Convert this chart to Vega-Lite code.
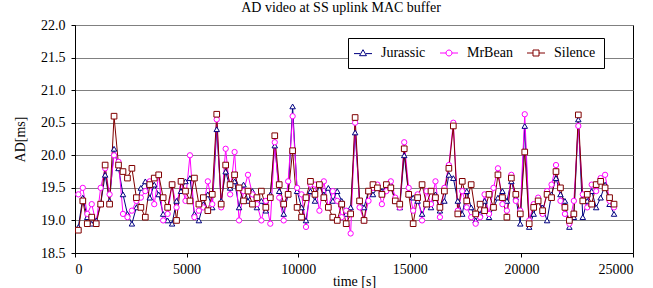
{
"$schema": "https://vega.github.io/schema/vega-lite/v6.json",
"width": 558, "height": 228,
"autosize": {"type": "none"},
"padding": {"left": 75, "top": 25, "right": 20, "bottom": 35},
"title": {"text": "AD video at SS uplink MAC buffer", "font": "Liberation Serif", "fontSize": 14, "fontWeight": "normal", "color": "black", "offset": 3, "anchor": "middle", "dx": -13},
"config": {
  "view": {"stroke": "#000", "strokeWidth": 1},
  "style": {"guide-label": {"font": "Liberation Serif", "fontSize": 14, "fill": "black"}},
  "axis": {"labelFont": "Liberation Serif", "labelFontSize": 14, "labelColor": "black", "titleFont": "Liberation Serif", "titleFontSize": 14, "titleFontWeight": "normal", "titleColor": "black", "domainColor": "black", "tickColor": "black", "tickSize": 4, "gridColor": "#808080", "gridWidth": 1},
  "legend": {"labelFont": "Liberation Serif", "labelFontSize": 14, "labelColor": "black"}
},
"data": {"values": [
{"t":150,"Jurassic":18.90,"MrBean":19.40,"Silence":18.85},
{"t":350,"Jurassic":19.35,"MrBean":19.50,"Silence":19.30},
{"t":550,"Jurassic":19.05,"MrBean":19.10,"Silence":18.95},
{"t":750,"Jurassic":18.95,"MrBean":19.25,"Silence":19.05},
{"t":950,"Jurassic":19.00,"MrBean":18.95,"Silence":18.95},
{"t":1150,"Jurassic":19.25,"MrBean":19.50,"Silence":19.25},
{"t":1350,"Jurassic":19.70,"MrBean":19.80,"Silence":19.85},
{"t":1550,"Jurassic":19.30,"MrBean":19.40,"Silence":19.25},
{"t":1750,"Jurassic":20.10,"MrBean":20.00,"Silence":20.60},
{"t":1950,"Jurassic":19.80,"MrBean":19.90,"Silence":19.85},
{"t":2150,"Jurassic":19.40,"MrBean":19.10,"Silence":19.75},
{"t":2350,"Jurassic":19.10,"MrBean":19.05,"Silence":19.65},
{"t":2550,"Jurassic":18.95,"MrBean":19.15,"Silence":19.80},
{"t":2750,"Jurassic":19.20,"MrBean":19.30,"Silence":19.35},
{"t":2950,"Jurassic":19.50,"MrBean":19.35,"Silence":19.20},
{"t":3150,"Jurassic":19.60,"MrBean":19.45,"Silence":19.05},
{"t":3350,"Jurassic":19.35,"MrBean":19.60,"Silence":19.55},
{"t":3550,"Jurassic":19.55,"MrBean":19.25,"Silence":19.65},
{"t":3750,"Jurassic":19.40,"MrBean":19.70,"Silence":19.70},
{"t":3950,"Jurassic":19.10,"MrBean":19.00,"Silence":19.35},
{"t":4150,"Jurassic":19.00,"MrBean":19.10,"Silence":19.20},
{"t":4350,"Jurassic":18.95,"MrBean":19.55,"Silence":19.55},
{"t":4550,"Jurassic":19.30,"MrBean":19.20,"Silence":19.00},
{"t":4750,"Jurassic":19.45,"MrBean":19.60,"Silence":19.60},
{"t":4950,"Jurassic":19.60,"MrBean":19.30,"Silence":19.45},
{"t":5150,"Jurassic":19.65,"MrBean":20.00,"Silence":19.30},
{"t":5350,"Jurassic":19.10,"MrBean":19.05,"Silence":19.65},
{"t":5550,"Jurassic":19.00,"MrBean":19.15,"Silence":19.25},
{"t":5750,"Jurassic":19.25,"MrBean":19.20,"Silence":19.35},
{"t":5950,"Jurassic":19.40,"MrBean":19.60,"Silence":19.15},
{"t":6150,"Jurassic":19.20,"MrBean":19.25,"Silence":19.40},
{"t":6350,"Jurassic":20.40,"MrBean":20.55,"Silence":20.63},
{"t":6550,"Jurassic":19.30,"MrBean":19.20,"Silence":19.25},
{"t":6750,"Jurassic":19.75,"MrBean":20.10,"Silence":19.85},
{"t":6950,"Jurassic":19.50,"MrBean":19.40,"Silence":19.55},
{"t":7150,"Jurassic":19.60,"MrBean":20.05,"Silence":19.70},
{"t":7350,"Jurassic":19.20,"MrBean":19.00,"Silence":19.50},
{"t":7550,"Jurassic":19.55,"MrBean":19.45,"Silence":19.30},
{"t":7750,"Jurassic":19.30,"MrBean":19.70,"Silence":19.45},
{"t":7950,"Jurassic":19.45,"MrBean":19.40,"Silence":19.25},
{"t":8150,"Jurassic":19.20,"MrBean":19.25,"Silence":19.35},
{"t":8350,"Jurassic":19.30,"MrBean":19.00,"Silence":19.45},
{"t":8550,"Jurassic":19.15,"MrBean":19.30,"Silence":19.20},
{"t":8750,"Jurassic":19.40,"MrBean":18.95,"Silence":19.35},
{"t":8950,"Jurassic":20.15,"MrBean":20.20,"Silence":20.30},
{"t":9150,"Jurassic":19.45,"MrBean":19.35,"Silence":19.55},
{"t":9350,"Jurassic":19.10,"MrBean":19.00,"Silence":19.25},
{"t":9550,"Jurassic":19.40,"MrBean":19.60,"Silence":19.40},
{"t":9750,"Jurassic":20.75,"MrBean":20.60,"Silence":20.07},
{"t":9950,"Jurassic":19.45,"MrBean":19.50,"Silence":19.20},
{"t":10150,"Jurassic":19.20,"MrBean":19.40,"Silence":19.05},
{"t":10350,"Jurassic":19.00,"MrBean":18.90,"Silence":19.35},
{"t":10550,"Jurassic":19.45,"MrBean":19.55,"Silence":19.60},
{"t":10750,"Jurassic":19.30,"MrBean":19.55,"Silence":19.40},
{"t":10950,"Jurassic":19.55,"MrBean":19.15,"Silence":19.55},
{"t":11150,"Jurassic":19.40,"MrBean":19.60,"Silence":19.35},
{"t":11350,"Jurassic":19.50,"MrBean":19.20,"Silence":19.20},
{"t":11550,"Jurassic":19.30,"MrBean":19.45,"Silence":19.05},
{"t":11750,"Jurassic":19.45,"MrBean":19.30,"Silence":19.00},
{"t":11950,"Jurassic":19.30,"MrBean":19.05,"Silence":19.25},
{"t":12150,"Jurassic":19.10,"MrBean":19.15,"Silence":18.95},
{"t":12350,"Jurassic":19.20,"MrBean":18.80,"Silence":19.10},
{"t":12550,"Jurassic":20.35,"MrBean":20.50,"Silence":20.58},
{"t":12750,"Jurassic":19.30,"MrBean":19.20,"Silence":19.30},
{"t":12950,"Jurassic":19.20,"MrBean":19.00,"Silence":19.00},
{"t":13150,"Jurassic":19.45,"MrBean":19.30,"Silence":19.45},
{"t":13350,"Jurassic":19.40,"MrBean":19.50,"Silence":19.55},
{"t":13550,"Jurassic":19.50,"MrBean":19.55,"Silence":19.50},
{"t":13750,"Jurassic":19.45,"MrBean":19.25,"Silence":19.40},
{"t":13950,"Jurassic":19.50,"MrBean":19.45,"Silence":19.55},
{"t":14150,"Jurassic":19.55,"MrBean":19.60,"Silence":19.50},
{"t":14350,"Jurassic":19.30,"MrBean":19.35,"Silence":19.30},
{"t":14550,"Jurassic":19.20,"MrBean":19.20,"Silence":19.25},
{"t":14750,"Jurassic":20.00,"MrBean":20.20,"Silence":20.10},
{"t":14950,"Jurassic":19.40,"MrBean":19.50,"Silence":19.40},
{"t":15150,"Jurassic":19.35,"MrBean":19.15,"Silence":18.95},
{"t":15350,"Jurassic":19.30,"MrBean":19.40,"Silence":19.35},
{"t":15550,"Jurassic":19.10,"MrBean":19.00,"Silence":19.55},
{"t":15750,"Jurassic":19.25,"MrBean":19.45,"Silence":19.25},
{"t":15950,"Jurassic":19.20,"MrBean":19.25,"Silence":19.45},
{"t":16150,"Jurassic":19.40,"MrBean":19.60,"Silence":19.35},
{"t":16350,"Jurassic":19.15,"MrBean":19.05,"Silence":19.20},
{"t":16550,"Jurassic":19.30,"MrBean":19.50,"Silence":19.45},
{"t":16750,"Jurassic":19.70,"MrBean":19.85,"Silence":19.80},
{"t":16950,"Jurassic":19.65,"MrBean":20.50,"Silence":20.45},
{"t":17150,"Jurassic":19.30,"MrBean":19.15,"Silence":19.10},
{"t":17350,"Jurassic":19.10,"MrBean":19.45,"Silence":19.60},
{"t":17550,"Jurassic":19.45,"MrBean":19.20,"Silence":19.30},
{"t":17750,"Jurassic":19.20,"MrBean":19.05,"Silence":19.55},
{"t":17950,"Jurassic":19.00,"MrBean":18.95,"Silence":19.10},
{"t":18150,"Jurassic":19.10,"MrBean":19.05,"Silence":19.25},
{"t":18350,"Jurassic":19.30,"MrBean":19.40,"Silence":19.15},
{"t":18550,"Jurassic":19.05,"MrBean":19.10,"Silence":19.40},
{"t":18750,"Jurassic":19.20,"MrBean":19.50,"Silence":19.20},
{"t":18950,"Jurassic":19.35,"MrBean":19.80,"Silence":19.70},
{"t":19150,"Jurassic":19.45,"MrBean":19.25,"Silence":19.35},
{"t":19350,"Jurassic":19.30,"MrBean":19.15,"Silence":19.05},
{"t":19550,"Jurassic":19.60,"MrBean":19.70,"Silence":19.65},
{"t":19750,"Jurassic":19.35,"MrBean":19.30,"Silence":19.40},
{"t":19950,"Jurassic":18.95,"MrBean":19.15,"Silence":19.10},
{"t":20150,"Jurassic":20.45,"MrBean":20.63,"Silence":20.05},
{"t":20350,"Jurassic":18.90,"MrBean":19.00,"Silence":18.95},
{"t":20550,"Jurassic":19.10,"MrBean":19.25,"Silence":19.20},
{"t":20750,"Jurassic":19.30,"MrBean":19.35,"Silence":19.30},
{"t":20950,"Jurassic":19.20,"MrBean":19.10,"Silence":19.15},
{"t":21150,"Jurassic":19.00,"MrBean":19.45,"Silence":19.40},
{"t":21350,"Jurassic":19.40,"MrBean":19.55,"Silence":19.35},
{"t":21550,"Jurassic":19.65,"MrBean":19.85,"Silence":19.75},
{"t":21750,"Jurassic":19.40,"MrBean":19.30,"Silence":19.50},
{"t":21950,"Jurassic":19.30,"MrBean":19.10,"Silence":19.20},
{"t":22150,"Jurassic":18.90,"MrBean":18.95,"Silence":19.00},
{"t":22350,"Jurassic":19.05,"MrBean":19.30,"Silence":19.10},
{"t":22550,"Jurassic":20.55,"MrBean":20.45,"Silence":20.62},
{"t":22750,"Jurassic":19.05,"MrBean":19.40,"Silence":19.30},
{"t":22950,"Jurassic":19.30,"MrBean":19.20,"Silence":19.40},
{"t":23150,"Jurassic":19.45,"MrBean":19.55,"Silence":19.25},
{"t":23350,"Jurassic":19.20,"MrBean":19.45,"Silence":19.55},
{"t":23550,"Jurassic":19.35,"MrBean":19.65,"Silence":19.60},
{"t":23750,"Jurassic":19.55,"MrBean":19.70,"Silence":19.50},
{"t":23950,"Jurassic":19.25,"MrBean":19.30,"Silence":19.35},
{"t":24150,"Jurassic":19.10,"MrBean":19.20,"Silence":19.25}
]},
"transform": [{"fold": ["Jurassic", "MrBean", "Silence"], "as": ["series", "ad"]}],
"encoding": {
  "x": {"field": "t", "type": "quantitative", "scale": {"domain": [0, 25000], "nice": false}, "axis": {"values": [0, 5000, 10000, 15000, 20000, 25000], "format": "d", "grid": false, "title": "time [s]", "labelPadding": 5, "titlePadding": -2}},
  "y": {"field": "ad", "type": "quantitative", "scale": {"domain": [18.5, 22], "nice": false, "zero": false}, "axis": {"values": [18.5, 19, 19.5, 20, 20.5, 21, 21.5, 22], "format": ".1f", "grid": true, "title": "AD[ms]", "labelPadding": 6, "titlePadding": 13}}
},
"layer": [
  {"mark": {"type": "line", "strokeWidth": 1},
   "encoding": {"color": {"field": "series", "type": "nominal", "title": null, "scale": {"domain": ["Jurassic", "MrBean", "Silence"], "range": ["#000080", "#FF00FF", "#800000"]}}}},
  {"data": {"values": [{}]}, "mark": {"type": "rule", "color": "#FF0000", "strokeWidth": 3}, "encoding": {"x": {"datum": 0}, "x2": {"datum": 25000}, "y": {"datum": 20}}},
  {"transform": [{"filter": "datum.series === 'Jurassic'"}],
   "mark": {"type": "point", "shape": "triangle-up", "filled": false, "fill": "white", "size": 30, "strokeWidth": 1, "opacity": 1},
   "encoding": {"color": {"field": "series", "type": "nominal", "title": null}}},
  {"transform": [{"filter": "datum.series === 'MrBean'"}],
   "mark": {"type": "point", "shape": "circle", "filled": false, "fill": "white", "size": 28, "strokeWidth": 1, "opacity": 1},
   "encoding": {"color": {"field": "series", "type": "nominal", "title": null}}},
  {"transform": [{"filter": "datum.series === 'Silence'"}],
   "mark": {"type": "point", "shape": "square", "filled": false, "fill": "white", "size": 32, "strokeWidth": 1, "opacity": 1},
   "encoding": {"color": {"field": "series", "type": "nominal", "title": null}}},
  {"data": {"values": [{"series": "Jurassic", "t": -5000, "ad": 19}, {"series": "MrBean", "t": -5000, "ad": 19}, {"series": "Silence", "t": -5000, "ad": 19}]},
   "mark": {"type": "point", "filled": false, "clip": true, "size": 36, "strokeWidth": 1, "opacity": 1},
   "encoding": {
     "color": {"field": "series", "type": "nominal", "title": null, "legend": {"title": null, "orient": "none", "legendX": 273, "legendY": 13, "direction": "horizontal", "strokeColor": "black", "fillColor": "white", "padding": 8, "columnPadding": 12, "labelOffset": 11, "labelFont": "Liberation Serif", "labelFontSize": 14, "labelColor": "black", "symbolSize": 36, "symbolStrokeWidth": 1, "symbolOpacity": 1}},
     "shape": {"field": "series", "type": "nominal", "title": null, "legend": {"title": null, "orient": "none", "legendX": 273, "legendY": 13, "direction": "horizontal", "strokeColor": "black", "fillColor": "white", "padding": 8, "columnPadding": 12, "labelOffset": 11, "labelFont": "Liberation Serif", "labelFontSize": 14, "labelColor": "black", "symbolSize": 36, "symbolStrokeWidth": 1, "symbolOpacity": 1},
       "scale": {"domain": ["Jurassic", "MrBean", "Silence"], "range": ["M-3,0.2H-1M1,0.2H3M0,-1.1L1.15,0.9L-1.15,0.9Z", "M-3,0H-1M1,0H3M1,0A1,1,0,1,1,-1,0A1,1,0,1,1,1,0Z", "M-3,0H-1M1,0H3M-1,-1H1V1H-1Z"]}}
   }}
]
}
